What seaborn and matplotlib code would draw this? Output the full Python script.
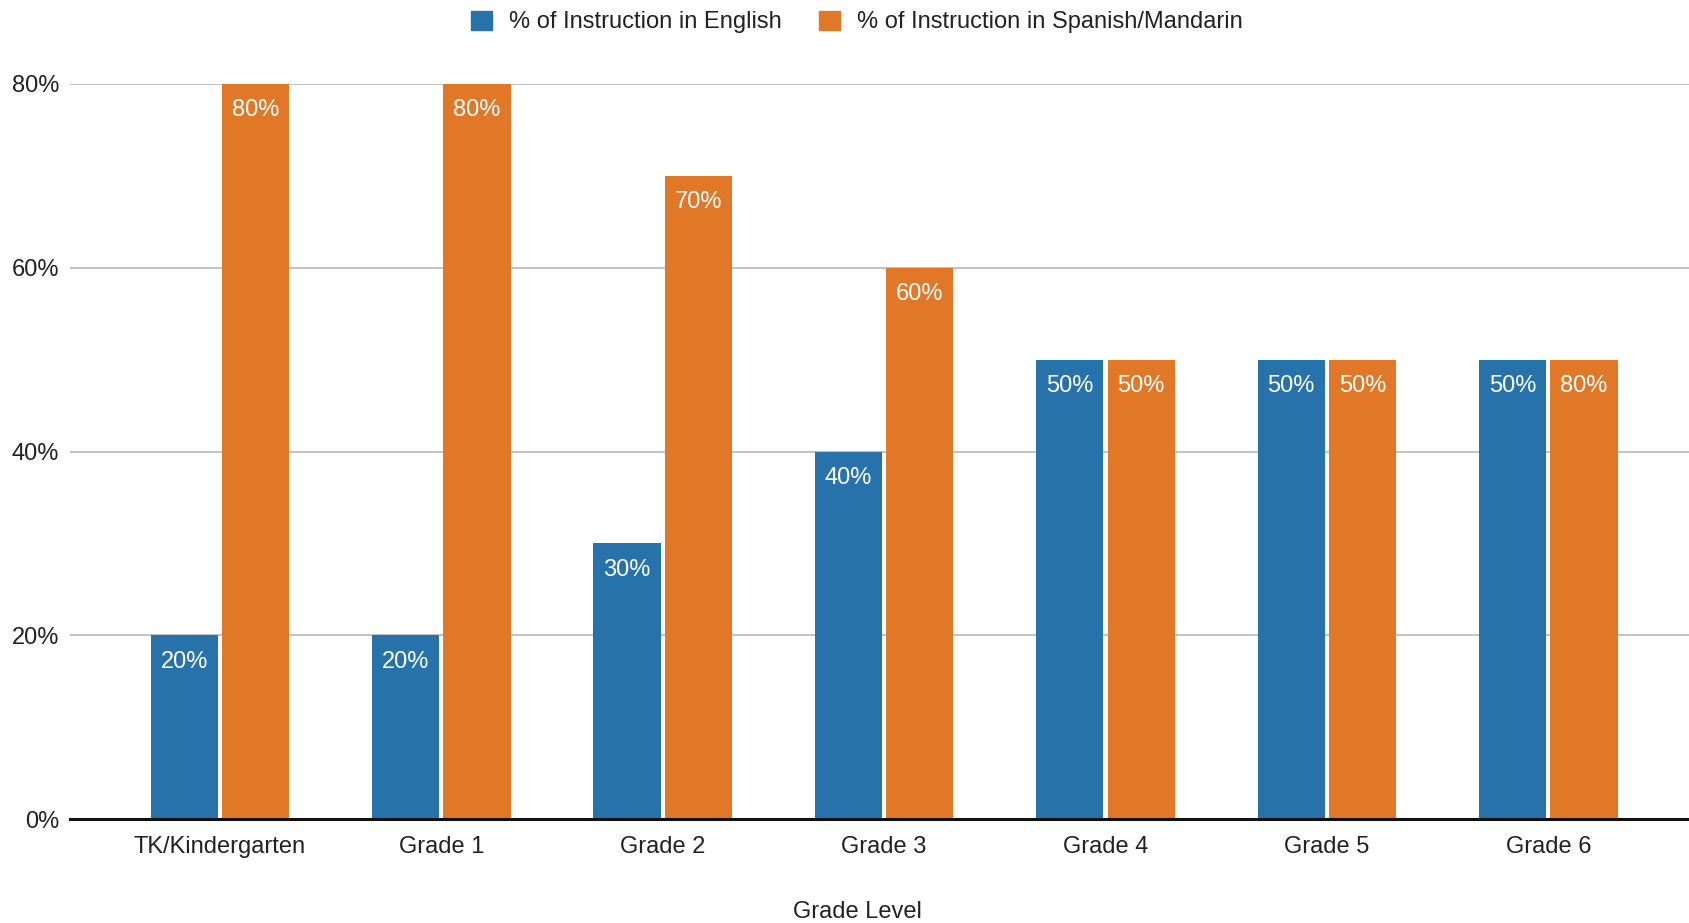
import numpy as np
import pandas as pd
import matplotlib
matplotlib.use("Agg")
import matplotlib.pyplot as plt
import seaborn as sns

grades = ["TK/Kindergarten", "Grade 1", "Grade 2", "Grade 3", "Grade 4", "Grade 5", "Grade 6"]
english = [20, 20, 30, 40, 50, 50, 50]
spanish = [80, 80, 70, 60, 50, 50, 50]
english_labels = ["20%", "20%", "30%", "40%", "50%", "50%", "50%"]
spanish_labels = ["80%", "80%", "70%", "60%", "50%", "50%", "80%"]
series = ["% of Instruction in English", "% of Instruction in Spanish/Mandarin"]
y_ticks = [0, 20, 40, 60, 80]

BLUE = "#2872ac"
ORANGE = "#e07828"
FS = 17

df = pd.DataFrame({
    "grade": grades * 2,
    "pct": english + spanish,
    "series": [series[0]] * len(grades) + [series[1]] * len(grades),
})

sns.set_style("white")
plt.rcParams["font.family"] = ["Liberation Sans", "DejaVu Sans"]

fig = plt.figure(figsize=(16.9, 9.23), dpi=100)
left = 70 / 1690
ax = fig.add_axes([left, 1 - 819 / 923, 1 - left, (819 - 84) / 923])

sns.barplot(data=df, x="grade", y="pct", hue="series", order=grades, hue_order=series,
            palette=[BLUE, ORANGE], width=0.645, gap=0.06, saturation=1,
            edgecolor="none", ax=ax, legend=False)

ax.set_ylim(0, 80)
ax.set_xlim(-0.677, 6.64)
ax.set_yticks(y_ticks)
ax.set_yticklabels([f"{t}%" for t in y_ticks])
ax.yaxis.grid(True, color="#b7b7b7", linewidth=1.2)
ax.set_axisbelow(True)
for s in ["top", "right", "left"]:
    ax.spines[s].set_visible(False)
ax.spines["bottom"].set_color("#111111")
ax.spines["bottom"].set_linewidth(2.2)
ax.spines["bottom"].set_zorder(5)
ax.tick_params(axis="both", length=0, labelsize=FS, colors="#222222")
ax.tick_params(axis="x", pad=12)
ax.tick_params(axis="y", pad=8)
ax.set_ylabel("")
ax.set_xlabel("Grade Level", fontsize=FS, color="#222222")
ax.xaxis.set_label_coords(0.486, -0.111)

for container, labels in zip(ax.containers, [english_labels, spanish_labels]):
    for bar, lab in zip(container, labels):
        ax.annotate(lab, (bar.get_x() + bar.get_width() / 2, bar.get_height()),
                    xytext=(0, -19), textcoords="offset points",
                    ha="center", va="center", color="white", fontsize=FS)

handles = [plt.Rectangle((0, 0), 1, 1, color=BLUE), plt.Rectangle((0, 0), 1, 1, color=ORANGE)]
fig.legend(handles, series, loc="center", bbox_to_anchor=(0.507, 1 - 22 / 923), ncol=2,
           frameon=False, fontsize=FS, handlelength=0.9, handleheight=0.9,
           handletextpad=0.7, columnspacing=1.6, labelcolor="#222222")

fig.savefig("out.png", dpi=100, facecolor="white")
